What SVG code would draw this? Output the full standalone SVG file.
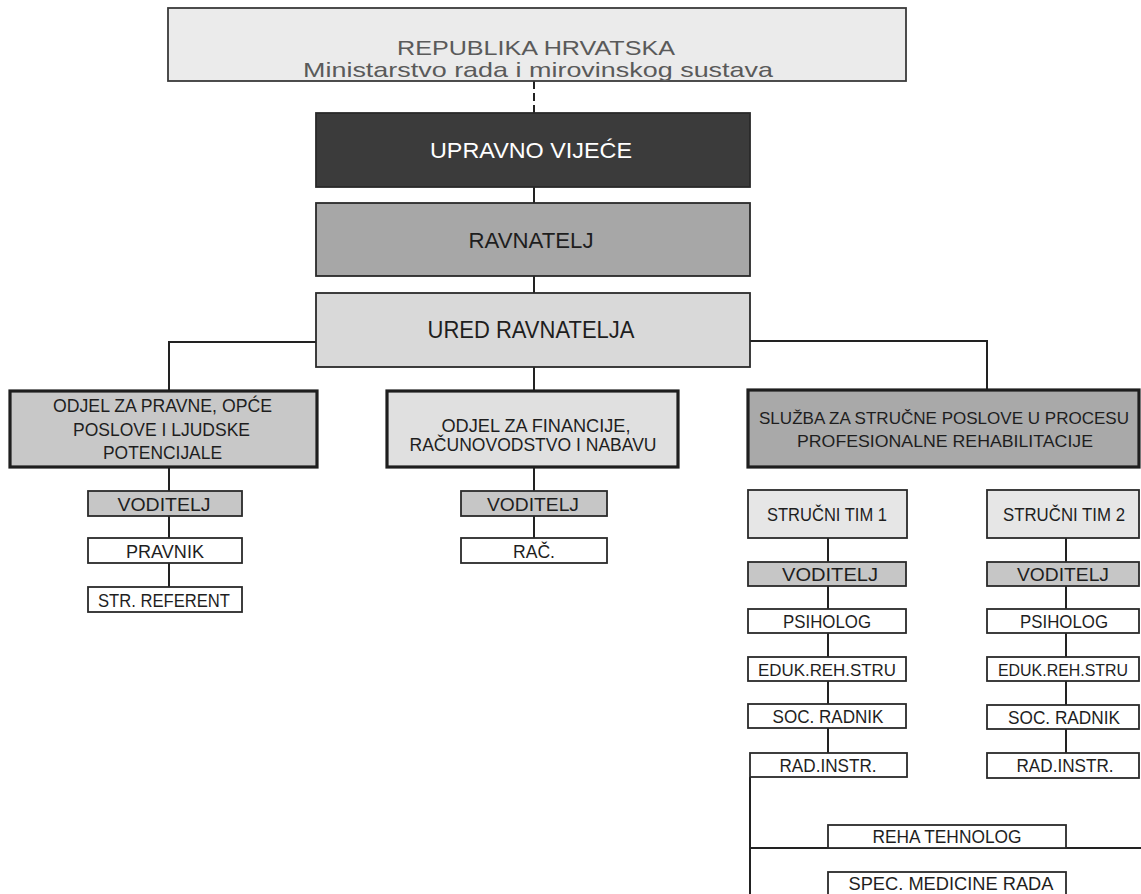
<svg xmlns="http://www.w3.org/2000/svg" width="1141" height="894" viewBox="0 0 1141 894">
<style>
  text { font-family: "Liberation Sans", Arial, sans-serif; text-anchor: middle; fill: #1e1e1e; }
  .box { stroke: #2a2a2a; stroke-width: 1.8; }
  .thick { stroke: #1e1e1e; stroke-width: 3.2; }
  .top { fill: #ebebeb; stroke: #3a3a3a; stroke-width: 1.8; }
  .dark { fill: #3b3b3b; }
  .mid { fill: #a7a7a7; }
  .light { fill: #d9d9d9; }
  .dept1 { fill: #c8c8c8; }
  .dept2 { fill: #e0e0e0; }
  .dept3 { fill: #a9a9a9; }
  .tim { fill: #e6e6e6; }
  .vod { fill: #c6c6c6; }
  .white { fill: #ffffff; }
  .t21 { font-size: 21px; }
  .t22 { font-size: 22px; }
  .t23 { font-size: 23px; }
  .t18 { font-size: 18px; }
  .t17 { font-size: 17px; }
  .t16 { font-size: 16px; }
  .thin { fill: #5a5a5a; }
  .wt { fill: #ffffff; }
  .conn { fill: none; stroke: #222222; stroke-width: 2; }
</style>

<g id="connectors">
  <path class="conn" d="M534 81 V113" stroke-dasharray="8 4"/>
  <path class="conn" d="M534 187 V203"/>
  <path class="conn" d="M534 276 V293"/>
  <path class="conn" d="M316 342 H169 V391"/>
  <path class="conn" d="M534 367 V391"/>
  <path class="conn" d="M750 341 H987 V390"/>
  <path class="conn" d="M169 467 V491 M169 516 V538 M169 563 V587"/>
  <path class="conn" d="M534 467 V491 M534 516 V538"/>
  <path class="conn" d="M828 538 V562 M828 586 V609 M828 633 V657 M828 681 V704 M828 728 V753"/>
  <path class="conn" d="M1066 538 V562 M1066 586 V609 M1066 633 V657 M1066 681 V705 M1066 729 V753"/>
  <path class="conn" d="M750 777 V894 M750 848 H1141"/>
</g>

<g id="republika">
  <rect class="top" x="168" y="8" width="738" height="73"/>
  <text class="t21 thin" x="536" y="55" textLength="278" lengthAdjust="spacingAndGlyphs">REPUBLIKA HRVATSKA</text>
  <text class="t21 thin" x="538" y="77" textLength="470" lengthAdjust="spacingAndGlyphs">Ministarstvo rada i mirovinskog sustava</text>
</g>

<g id="upravno-vijece">
  <rect class="box dark" x="316" y="113" width="434" height="74"/>
  <text class="t22 wt" x="531" y="158" textLength="202" lengthAdjust="spacingAndGlyphs">UPRAVNO VIJEĆE</text>
</g>

<g id="ravnatelj">
  <rect class="box mid" x="316" y="203" width="434" height="73"/>
  <text class="t22" x="531" y="248" textLength="125" lengthAdjust="spacingAndGlyphs">RAVNATELJ</text>
</g>

<g id="ured-ravnatelja">
  <rect class="box light" x="316" y="293" width="434" height="74"/>
  <text class="t23" x="531" y="338" textLength="207" lengthAdjust="spacingAndGlyphs">URED RAVNATELJA</text>
</g>

<g id="odjel-pravne">
  <rect class="thick dept1" x="10" y="391" width="307" height="76"/>
  <text class="t18" x="162.5" y="412" textLength="219" lengthAdjust="spacingAndGlyphs">ODJEL ZA PRAVNE, OPĆE</text>
  <text class="t18" x="161.5" y="436" textLength="177" lengthAdjust="spacingAndGlyphs">POSLOVE I LJUDSKE</text>
  <text class="t18" x="162.5" y="459" textLength="119" lengthAdjust="spacingAndGlyphs">POTENCIJALE</text>
</g>
<g id="l-voditelj">
  <rect class="box vod" x="88" y="491" width="154" height="25"/>
  <text class="t18" x="164" y="511" textLength="93" lengthAdjust="spacingAndGlyphs">VODITELJ</text>
</g>
<g id="l-pravnik">
  <rect class="box white" x="88" y="538" width="154" height="25"/>
  <text class="t18" x="165" y="558" textLength="78" lengthAdjust="spacingAndGlyphs">PRAVNIK</text>
</g>
<g id="l-str-referent">
  <rect class="box white" x="88" y="587" width="154" height="25"/>
  <text class="t18" x="164" y="607" textLength="132" lengthAdjust="spacingAndGlyphs">STR. REFERENT</text>
</g>

<g id="odjel-financije">
  <rect class="thick dept2" x="387" y="391" width="291" height="76"/>
  <text class="t18" x="536" y="432" textLength="189" lengthAdjust="spacingAndGlyphs">ODJEL ZA FINANCIJE,</text>
  <text class="t18" x="533" y="451" textLength="247" lengthAdjust="spacingAndGlyphs">RAČUNOVODSTVO I NABAVU</text>
</g>
<g id="m-voditelj">
  <rect class="box vod" x="461" y="491" width="146" height="25"/>
  <text class="t18" x="533" y="511" textLength="92" lengthAdjust="spacingAndGlyphs">VODITELJ</text>
</g>
<g id="m-rac">
  <rect class="box white" x="461" y="538" width="146" height="25"/>
  <text class="t18" x="534" y="558" textLength="42" lengthAdjust="spacingAndGlyphs">RAČ.</text>
</g>

<g id="sluzba">
  <rect class="thick dept3" x="748" y="390" width="391" height="77"/>
  <text class="t17" x="944" y="424" textLength="370" lengthAdjust="spacingAndGlyphs">SLUŽBA ZA STRUČNE POSLOVE U PROCESU</text>
  <text class="t17" x="945" y="447" textLength="296" lengthAdjust="spacingAndGlyphs">PROFESIONALNE REHABILITACIJE</text>
</g>

<g id="strucni-tim-1">
  <rect class="box tim" x="748" y="490" width="159" height="48"/>
  <text class="t18" x="827" y="521" textLength="120" lengthAdjust="spacingAndGlyphs">STRUČNI TIM 1</text>
</g>
<g id="t1-voditelj">
  <rect class="box vod" x="748" y="562" width="158" height="24"/>
  <text class="t18" x="830" y="581" textLength="96" lengthAdjust="spacingAndGlyphs">VODITELJ</text>
</g>
<g id="t1-psiholog">
  <rect class="box white" x="748" y="609" width="158" height="24"/>
  <text class="t18" x="827" y="628" textLength="88" lengthAdjust="spacingAndGlyphs">PSIHOLOG</text>
</g>
<g id="t1-eduk">
  <rect class="box white" x="748" y="657" width="158" height="24"/>
  <text class="t17" x="827" y="676" textLength="138" lengthAdjust="spacingAndGlyphs">EDUK.REH.STRU</text>
</g>
<g id="t1-soc">
  <rect class="box white" x="748" y="704" width="158" height="24"/>
  <text class="t18" x="828" y="723" textLength="111" lengthAdjust="spacingAndGlyphs">SOC. RADNIK</text>
</g>
<g id="t1-rad">
  <rect class="box white" x="750" y="753" width="157" height="24"/>
  <text class="t18" x="828" y="772" textLength="97" lengthAdjust="spacingAndGlyphs">RAD.INSTR.</text>
</g>

<g id="strucni-tim-2">
  <rect class="box tim" x="987" y="490" width="152" height="48"/>
  <text class="t18" x="1064" y="521" textLength="122" lengthAdjust="spacingAndGlyphs">STRUČNI TIM 2</text>
</g>
<g id="t2-voditelj">
  <rect class="box vod" x="987" y="562" width="152" height="24"/>
  <text class="t18" x="1063" y="581" textLength="92" lengthAdjust="spacingAndGlyphs">VODITELJ</text>
</g>
<g id="t2-psiholog">
  <rect class="box white" x="987" y="609" width="152" height="24"/>
  <text class="t18" x="1064" y="628" textLength="88" lengthAdjust="spacingAndGlyphs">PSIHOLOG</text>
</g>
<g id="t2-eduk">
  <rect class="box white" x="987" y="657" width="152" height="24"/>
  <text class="t16" x="1063" y="676" textLength="130" lengthAdjust="spacingAndGlyphs">EDUK.REH.STRU</text>
</g>
<g id="t2-soc">
  <rect class="box white" x="987" y="705" width="152" height="24"/>
  <text class="t18" x="1064" y="724" textLength="112" lengthAdjust="spacingAndGlyphs">SOC. RADNIK</text>
</g>
<g id="t2-rad">
  <rect class="box white" x="987" y="753" width="152" height="25"/>
  <text class="t18" x="1065" y="772" textLength="97" lengthAdjust="spacingAndGlyphs">RAD.INSTR.</text>
</g>

<g id="reha-tehnolog">
  <rect class="box white" x="828" y="825" width="238" height="23"/>
  <text class="t18" x="947" y="843" textLength="149" lengthAdjust="spacingAndGlyphs">REHA TEHNOLOG</text>
</g>
<g id="spec-medicine-rada">
  <rect class="box white" x="828" y="872" width="238" height="24"/>
  <text class="t18" x="951" y="890" textLength="205" lengthAdjust="spacingAndGlyphs">SPEC. MEDICINE RADA</text>
</g>
</svg>
